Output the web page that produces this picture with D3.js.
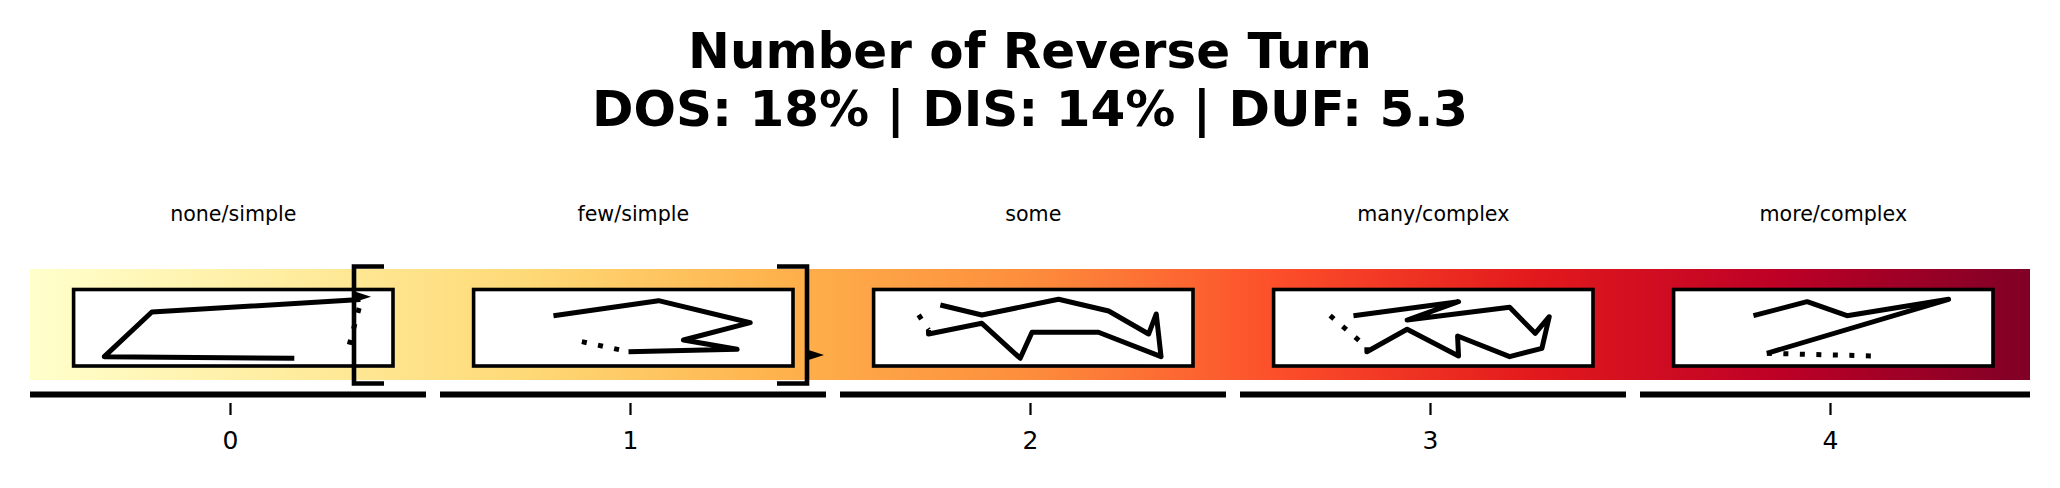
<!DOCTYPE html>
<html><head><meta charset="utf-8">
<script src="https://cdn.jsdelivr.net/npm/d3@7"></script>
<style>html,body{margin:0;padding:0;background:#fff;}svg{display:block;}</style>
</head><body>
<svg id="chart" width="2060" height="488"></svg>
<script>
// ---------- data ----------
const categories = [0, 1, 2, 3, 4];
const tickLabels = ["0", "1", "2", "3", "4"];
const levelLabels = ["none/simple", "few/simple", "some", "many/complex", "more/complex"];
const titleLines = ["Number of Reverse Turn", "DOS: 18% | DIS: 14% | DUF: 5.3"];
const colormap = ["#ffffcc","#ffeda0","#fed976","#feb24c","#fd8d3c","#fc4e2a","#e31a1c","#bd0026","#800026"];
// glyph polylines inside each box, in box units (0..100 across, 0..100 down)
const glyphSolid = [
  [[69.1,89.9],[9.6,87.8],[24.5,29.4],[89.8,13.1]],
  [[48.5,81.3],[82.5,78.2],[65.7,66.0],[86.6,43.4],[57.9,14.6],[25.0,34.2]],
  [[17.2,52.9],[17.2,58.2],[33.9,44.2],[45.9,89.9],[49.6,55.9],[70.4,55.9],[90.0,87.8],[88.5,32.0],[86.1,58.2],[73.6,28.1],[57.9,12.8],[33.9,33.3],[20.9,20.3]],
  [[29.2,75.6],[29.2,81.3],[41.8,52.0],[57.9,86.9],[57.6,60.8],[73.9,87.8],[84.0,76.9],[86.3,35.6],[81.9,57.3],[73.9,23.3],[41.8,39.9],[57.9,15.9],[25.0,34.2]],
  [[25.0,34.2],[41.8,15.9],[54.3,34.2],[86.1,12.8],[29.2,83.4]]
];
const glyphDotted = [
  [[89.4,24.2],[85.7,81.7]],
  [[33.9,68.2],[48.5,81.3]],
  [[14.1,33.3],[17.2,52.9]],
  [[17.7,34.2],[29.2,75.6]],
  [[29.2,83.4],[62.6,86.9]]
];
// bracket range on the category axis, and caret markers (category position, box level)
const bracketRange = [0.31, 1.4425];
const caretMarks = [[0.31, 9.4], [1.4425, 85.6]];

// ---------- layout ----------
const svg = d3.select("#chart");
const x = d3.scaleLinear().domain([-0.5, 4.5]).range([30, 2030]);
const bandTop = 269, bandBottom = 380;
const boxW = 319.4, boxTop = 289.5, boxH = 76.5, boxShift = 3.3;
const gy = d3.scaleLinear().domain([0, 100]).range([boxTop, boxTop + boxH]);
const gxFor = i => d3.scaleLinear().domain([0, 100]).range([x(i) + boxShift - boxW/2, x(i) + boxShift + boxW/2]);

// gradient
const defs = svg.append("defs");
const grad = defs.append("linearGradient").attr("id","ylorrd")
  .attr("gradientUnits","userSpaceOnUse")
  .attr("x1", x(-0.5)).attr("x2", x(4.5)).attr("y1",0).attr("y2",0);
grad.selectAll("stop").data(colormap).join("stop")
  .attr("offset",(d,i)=> i/(colormap.length-1))
  .attr("stop-color", d=>d);

svg.append("rect").attr("x", x(-0.5)).attr("y", bandTop)
  .attr("width", x(4.5)-x(-0.5)).attr("height", bandBottom-bandTop)
  .attr("fill","url(#ylorrd)");

// title
const title = svg.append("text").attr("text-anchor","middle")
  .attr("font-family","DejaVu Sans").attr("font-weight","bold").attr("font-size",50).attr("fill","#000");
title.selectAll("tspan").data(titleLines).join("tspan")
  .attr("x",1030).attr("y",(d,i)=> i===0 ? 68 : 126).text(d=>d);

// level labels
svg.selectAll("text.lvl").data(categories).join("text").attr("class","lvl")
  .attr("x", d => x(d) + boxShift).attr("y", 221)
  .attr("text-anchor","middle").attr("font-family","DejaVu Sans").attr("font-size",20.6)
  .text((d,i)=> levelLabels[i]);

// boxes
svg.selectAll("rect.box").data(categories).join("rect").attr("class","box")
  .attr("x", d => x(d) + boxShift - boxW/2).attr("y", boxTop)
  .attr("width", boxW).attr("height", boxH)
  .attr("fill","#fff").attr("stroke","#000").attr("stroke-width",3.6);

// glyphs
const line = d3.line();
categories.forEach((c,i)=>{
  const gx = gxFor(c);
  svg.append("path").attr("d", line(glyphSolid[i].map(p=>[gx(p[0]), gy(p[1])])))
    .attr("fill","none").attr("stroke","#000").attr("stroke-width",5)
    .attr("stroke-linejoin","round").attr("stroke-linecap","butt");
  svg.append("path").attr("d", line(glyphDotted[i].map(p=>[gx(p[0]), gy(p[1])])))
    .attr("fill","none").attr("stroke","#000").attr("stroke-width",5)
    .attr("stroke-dasharray","5,11.5");
});

// brackets
const bTop = 266.5, bBot = 383.5, arm = 30;
const bl = x(bracketRange[0]), br = x(bracketRange[1]);
svg.append("path").attr("d", `M${bl+arm},${bTop}H${bl}V${bBot}H${bl+arm}`)
  .attr("fill","none").attr("stroke","#000").attr("stroke-width",4.6).attr("stroke-linejoin","miter");
svg.append("path").attr("d", `M${br-arm},${bTop}H${br}V${bBot}H${br-arm}`)
  .attr("fill","none").attr("stroke","#000").attr("stroke-width",4.6).attr("stroke-linejoin","miter");

// caret markers
svg.selectAll("path.caret").data(caretMarks).join("path").attr("class","caret")
  .attr("d", d => { const x0 = x(d[0]), y0 = gy(d[1]); return `M${x0},${y0-5.5}L${x0+17},${y0}L${x0},${y0+5.5}Z`; })
  .attr("fill","#000");

// axis segments
svg.selectAll("line.seg").data(categories).join("line").attr("class","seg")
  .attr("x1", d => d===0 ? x(-0.5) : x(d-0.5)+10)
  .attr("x2", d => d===4 ? x(4.5) : x(d+0.5)-4)
  .attr("y1", 394.5).attr("y2", 394.5)
  .attr("stroke","#000").attr("stroke-width",6);

// ticks & labels
const axis = d3.axisBottom(x).tickValues(categories).tickFormat((d,i)=>tickLabels[i])
  .tickSize(12).tickPadding(16);
const ag = svg.append("g").attr("transform","translate(0,403)").call(axis);
ag.select(".domain").remove();
ag.selectAll(".tick line").attr("stroke","#000").attr("stroke-width",2.2);
ag.selectAll(".tick text").attr("font-family","DejaVu Sans").attr("font-size",25).attr("fill","#000");
</script>
</body></html>
